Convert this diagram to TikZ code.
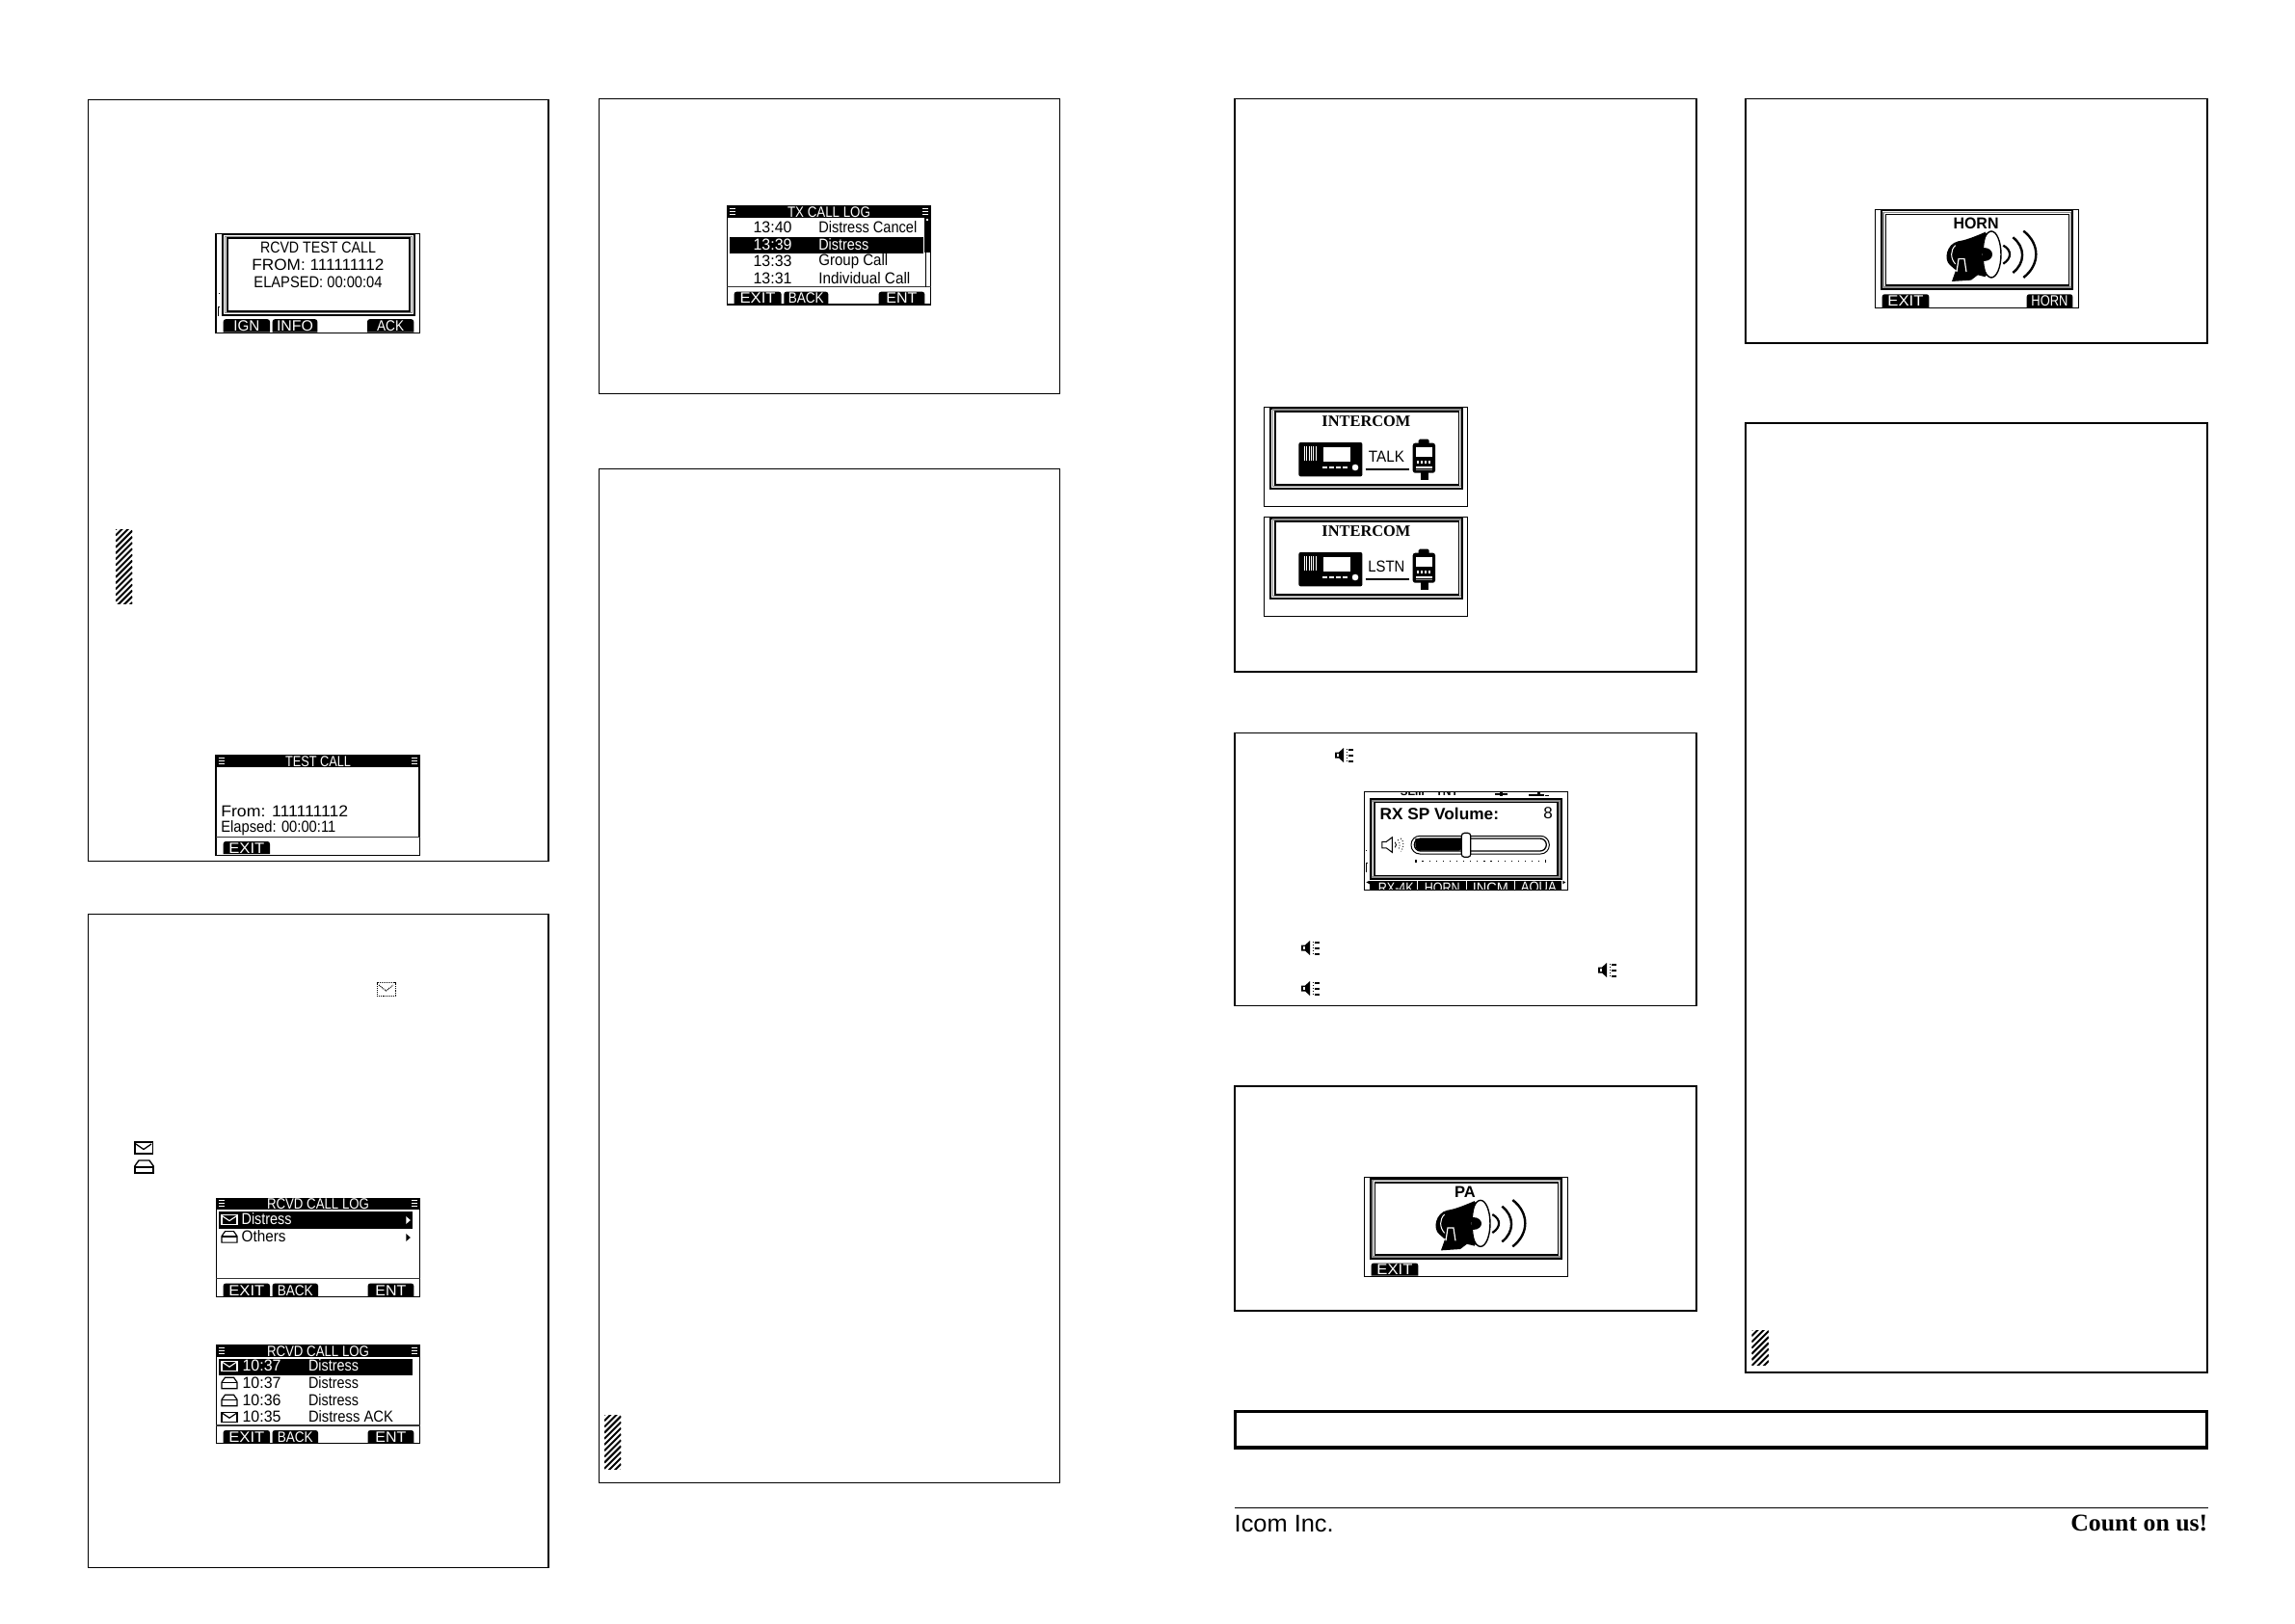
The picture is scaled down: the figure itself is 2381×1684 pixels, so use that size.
\documentclass[tikz,border=0pt]{standalone}
\usepackage{fontspec}
\usepackage{graphicx}
\setmainfont{Liberation Sans}
\newfontfamily\serifbold{Liberation Serif}
\newcommand\fw[2]{\resizebox{#1pt}{\height}{#2}}
\newcommand\lcd{\fontsize{16.5}{16.5}\selectfont}
\newcommand\lcdkey{\fontsize{15.5}{15.5}\selectfont}
\tikzset{
  panel/.style={draw=black,line width=1.2pt,fill=white},
  scr/.style={draw=black,line width=1.1pt},
  txt/.style={inner sep=0pt,outer sep=0pt,font=\lcd,text=black,anchor=center},
  txtl/.style={txt,anchor=west},
  inv/.style={txt,text=white},
  invl/.style={txtl,text=white},
  key/.style={inv,font=\lcdkey},
  ttl/.style={inv,font=\lcdkey},
  fat/.style={txt,font=\lcd\bfseries,text=black},
  ihead/.style={txt,font=\serifbold\bfseries\fontsize{16.5}{16.5}\selectfont},
}
% soft key tab: x1 x2 top label textwidth name
\newcommand\softkey[6]{%
  \fill[black,rounded corners=2.5pt] (#1,102) -- (#1,#3) -- (#2,#3) [sharp corners] -- (#2,102) -- cycle;
  \node[key] (#6) at ({(#1+#2)/2},{(#3+102)/2+0.3}) {\fw{#5}{#4}};}
% top band with menu marks
\newcommand\band{%
  \fill[black] (0,0) rectangle (211.5,12);
  \foreach \mx in {2.5,202.5}{\foreach \my in {2.6,5.6,8.6}{\draw[white,line width=1pt] (\mx,\my) -- ++(6.5,0);}}}
\newcommand\sides[1]{%
  \draw[black,line width=1pt] (0.6,12) -- (0.6,#1);
  \draw[black,line width=1pt] (210.9,12) -- (210.9,#1);
  \draw[black!80,line width=1.3pt] (0,#1) -- (211.5,#1);}
% double frame of a dialog: outer box, inner box
\newcommand\dlg[8]{%
  \draw[black,line width=2pt] (#1,#2) rectangle (#3,#4);
  \draw[black!45,line width=1.3pt] ({(#1+#5)/2},{(#2+#6)/2}) rectangle ({(#3+#7)/2},{(#4+#8)/2});
  \draw[black,line width=1.6pt] (#5,#6) rectangle (#7,#8);}
\newcommand\envicon[2]{%
  \draw[black,line width=1.2pt] (#1,#2) rectangle ++(16,10);
  \draw[black,line width=1.2pt] (#1+0.5,#2+1) -- (#1+8,#2+6) -- (#1+15.5,#2+1);}
\newcommand\openicon[2]{%
  \draw[black,line width=1.2pt] (#1,#2+12.5) -- (#1,#2+6) -- (#1+3.5,#2+1) -- (#1+12.5,#2+1) -- (#1+16,#2+6) -- (#1+16,#2+12.5) -- cycle;
  \draw[black,line width=1.2pt] (#1,#2+6.3) -- (#1+16,#2+6.3);}
\newcommand\spk[2]{% speaker mark 19x15
  \fill[black] (#1,#2+4.5) -- (#1+4,#2+4.5) -- (#1+9,#2) -- (#1+9,#2+15) -- (#1+4,#2+10.5) -- (#1,#2+10.5) -- cycle;
  \fill[white] (#1+2,#2+6.3) rectangle (#1+4,#2+8.7);
  \foreach \dy in {1,4,7,10,13}{\fill[black] (#1+11.5,#2+\dy) rectangle ++(1.5,1.4);}
  \foreach \dy in {1,7,13}{\fill[black] (#1+14,#2+\dy) rectangle ++(4.5,1.5);}}
\newcommand\hatchbox[4]{%
  \begin{scope}
    \clip (#1,#2) rectangle (#3,#4);
    \pgfmathsetmacro\hw{#3-#1}
    \pgfmathsetmacro\hend{#4+\hw+6}
    \pgfmathsetmacro\hnext{#2+6.2}
    \foreach \k in {#2,\hnext,...,\hend}{\draw[black,line width=2pt] (#1,\k) -- (#3,\k-\hw);}
  \end{scope}}
% megaphone, drawn in 3x units with origin of the crop
\newcommand\megaphone{%
  \begin{scope}[scale=1/3]
    \fill[black] (390,108) .. controls (350,125) and (330,133) .. (305,137) .. controls (268,145) and (258,195) .. (280,212) -- (295,225) -- (390,248) -- cycle;
    \fill[black] (285,262) -- (297,228) -- (345,232) -- (375,235) -- (345,258) -- cycle;
    \draw[white,line width=1pt] (296,150) .. controls (280,165) and (280,190) .. (296,208);
    \fill[black] (303,188) rectangle (328,236);
    \draw[white,line width=1.2pt] (300,232) -- (306,192) -- (324,192) -- (330,232);
    \draw[black,line width=1.4pt,fill=white] (408,178) ellipse [x radius=30,y radius=72];
    \draw[black,line width=1.2pt] (392,112) .. controls (378,150) and (378,205) .. (392,244);
    \fill[black] (385,158) .. controls (420,158) and (420,198) .. (385,198) -- cycle;
    \draw[black,line width=2.2pt] (445,150) .. controls (472,165) and (472,190) .. (445,207);
    \draw[black,line width=2.4pt] (475,125) .. controls (514,155) and (514,205) .. (475,235);
    \draw[black,line width=2.4pt] (508,105) .. controls (560,145) and (560,210) .. (508,250);
  \end{scope}}
% radio plus handset of the intercom screens
\newcommand\intercomart{%
  \fill[black,rounded corners=2pt] (35.7,36.3) rectangle (101.7,71.7);
  \foreach \gx in {41.5,43.9,...,55}{\draw[white,line width=0.9pt] (\gx,40.7) -- (\gx,55.7);}
  \fill[white] (61.7,41.3) rectangle (89,56);
  \foreach \gx in {60,67,74,81}{\fill[white] (\gx,61.3) rectangle ++(5,2);}
  \draw[black,line width=1pt,fill=white] (94.3,62.3) circle (4);
  \draw[black,line width=2.2pt] (105,64) -- (150,64);
  \fill[black,rounded corners=1.5pt] (160,33) rectangle (171,39);
  \fill[black,rounded corners=2.5pt] (154,37) rectangle (177.3,68);
  \fill[black] (162,67) rectangle (170,75);
  \fill[white] (157,41) rectangle (174.3,51);
  \foreach \gx in {158,162,166,170}{\fill[white] (\gx,55.7) rectangle ++(2.6,2.4);}
  \fill[white] (157,61) rectangle (174.3,62.8);
  \fill[black!45] (157,64) rectangle (174.3,65.6);}
\begin{document}
\begin{tikzpicture}[x=1pt,y=-1pt,line join=miter]
\useasboundingbox (0,0) rectangle (2381,1684);
\fill[white] (0,0) rectangle (2381,1684);

% panels, column one
\draw[panel] (91.5,103.6) rectangle (569,893.3);
\draw[panel] (91.5,948.5) rectangle (569,1626.5);
% column two
\draw[panel] (621.3,102.5) rectangle (1099.5,408.5);
\draw[panel] (621.3,486.5) rectangle (1099.5,1538.5);
% column three
\draw[panel] (1281,102.5) rectangle (1760,697);
\draw[panel] (1281,760.5) rectangle (1760,1043.5);
\draw[panel] (1281,1127) rectangle (1760,1360);
% column four
\draw[panel] (1811,102.5) rectangle (2290,356);
\draw[panel] (1811,439) rectangle (2290,1424);
% long bar and foot
\draw[draw=black,line width=3.2pt] (1281.8,1464.5) rectangle (2289.6,1502);
\draw[black,line width=1.2pt] (1281,1564.5) -- (2290.5,1564.5);
\node[inner sep=0pt,anchor=base west,font=\fontsize{25}{25}\selectfont,text=black] (icom) at (1280.5,1589.5) {\fw{103}{Icom Inc.}};
\node[inner sep=0pt,anchor=base east,font=\serifbold\bfseries\fontsize{25}{25}\selectfont,text=black] (count) at (2290.5,1588.5) {\fw{142}{Count on us!}};

% hatched marks
\hatchbox{120}{549.3}{137.3}{626.8}
\hatchbox{627}{1468}{644.3}{1524}
\hatchbox{1817.3}{1380}{1835}{1416}

% loose icons
\draw[black,line width=1pt,dash pattern=on 1pt off 0.9pt] (391,1019.5) rectangle (410,1033);
\draw[black,line width=1pt,dash pattern=on 1pt off 0.9pt] (393,1022) -- (400.5,1028) -- (408,1022);
\fill[black] (139,1184) rectangle (159,1198);
\fill[white] (140.5,1186) rectangle (157.5,1196);
\draw[black,line width=1.3pt] (141,1187) -- (149,1192.5) -- (157,1187);
\fill[black] (139,1209.5) rectangle (160,1218);
\fill[white] (141,1211.5) rectangle (158,1216);
\draw[black,line width=1.4pt] (139.7,1210) -- (144,1204) -- (155,1204) -- (159.3,1210);
\spk{1385}{776}
\spk{1350}{976}
\spk{1658}{999}
\spk{1350}{1018}

% RCVD TEST CALL
\begin{scope}[shift={(224,242.5)}]
  \draw[scr,fill=white] (0,0) rectangle (211.5,103);
  \dlg{6.7}{0.7}{206}{84}{11.7}{4.6}{201}{80.4}
  \node[txt] (a1) at (106,14.6) {\fw{120}{RCVD TEST CALL}};
  \node[txt] (a2) at (106,32.5) {\fw{137}{FROM: 111111112}};
  \node[txt] (a3) at (106,50.4) {\fw{133}{ELAPSED: 00:00:04}};
  \fill[black] (2.6,61.5) rectangle (3.8,62.7);
  \draw[black,line width=0.9pt] (2.8,85) -- (2.8,76) -- (4.4,76);
  \softkey{7.7}{56}{88.7}{IGN}{27}{a4}
  \softkey{58.7}{105.3}{88.7}{INFO}{38}{a5}
  \softkey{157}{205.3}{88.7}{ACK}{28}{a6}
\end{scope}

% TEST CALL
\begin{scope}[shift={(224,784)}]
  \band
  \draw[scr] (0,0) rectangle (211.5,103.3);
  \sides{84.7}
  \node[ttl] (b1) at (106,6) {\fw{68}{TEST CALL}};
  \node[txtl] (b2) at (5.3,57.7) {\fw{132}{From: 111111112}};
  \node[txtl] (b3) at (5.3,75.3) {\fw{119}{Elapsed: 00:00:11}};
  \softkey{7.7}{56}{89}{EXIT}{37}{b4}
\end{scope}

% RCVD CALL LOG, first
\begin{scope}[shift={(224.3,1243.3)}]
  \band
  \draw[scr] (0,0) rectangle (211,102);
  \sides{83.3}
  \node[ttl] (c1) at (105.7,6) {\fw{106}{RCVD CALL LOG}};
  \fill[black] (2.7,14) rectangle (203.3,31.3);
  \draw[white,line width=1.1pt] (5.7,17.3) rectangle ++(16,10);
  \draw[white,line width=1.1pt] (6.2,18.3) -- (13.7,23.3) -- (21.2,18.3);
  \openicon{5.7}{33.3}
  \node[invl] (c2) at (26.3,21.7) {\fw{52}{Distress}};
  \node[txtl] (c3) at (26.3,39.3) {\fw{46}{Others}};
  \fill[white] (197,18.7) -- (201.5,22.7) -- (197,26.7) -- cycle;
  \fill[black] (197,36.7) -- (201.5,40.7) -- (197,44.7) -- cycle;
  \softkey{7.3}{55.7}{88.3}{EXIT}{37}{c4}
  \softkey{58.3}{105.7}{88.3}{BACK}{37}{c5}
  \softkey{157.3}{205}{88.3}{ENT}{32}{c6}
\end{scope}

% RCVD CALL LOG, second
\begin{scope}[shift={(224.3,1395.7)}]
  \band
  \draw[scr] (0,0) rectangle (211,101.6);
  \sides{83.3}
  \node[ttl] (d1) at (105.7,6) {\fw{106}{RCVD CALL LOG}};
  \fill[black] (2.7,14.3) rectangle (203.3,31);
  \draw[white,line width=1.1pt] (5.7,16.5) rectangle ++(16,10);
  \draw[white,line width=1.1pt] (6.2,17.5) -- (13.7,22.5) -- (21.2,17.5);
  \openicon{5.7}{32.5}
  \openicon{5.7}{50.5}
  \envicon{5.7}{69.5}
  \node[invl] (d2) at (27.3,21) {\fw{40}{10:37}};
  \node[invl] (d3) at (95.7,21) {\fw{52}{Distress}};
  \node[txtl] (d4) at (27.3,38.7) {\fw{40}{10:37}};
  \node[txtl] (d5) at (95.7,38.7) {\fw{52}{Distress}};
  \node[txtl] (d6) at (27.3,56.7) {\fw{40}{10:36}};
  \node[txtl] (d7) at (95.7,56.7) {\fw{52}{Distress}};
  \node[txtl] (d8) at (27.3,74.3) {\fw{40}{10:35}};
  \node[txtl] (d9) at (95.7,74.3) {\fw{88}{Distress ACK}};
  \softkey{7.3}{55.7}{88.3}{EXIT}{37}{d10}
  \softkey{58.3}{105.7}{88.3}{BACK}{37}{d11}
  \softkey{157.3}{205}{88.3}{ENT}{32}{d12}
\end{scope}

% TX CALL LOG
\begin{scope}[shift={(754.3,214)}]
  \band
  \draw[scr] (0,0) rectangle (211.4,102);
  \sides{83.7}
  \fill[black] (205,12) rectangle (211,48);
  \fill[white] (207,13) rectangle (208.6,14.8);
  \draw[black,line width=1.2pt] (206.3,48) -- (206.3,83.7);
  \node[ttl] (e1) at (105.7,6) {\fw{86}{TX CALL LOG}};
  \fill[black] (2.3,31.7) rectangle (203.3,49.3);
  \node[txtl] (e2) at (27.3,21.7) {\fw{40}{13:40}};
  \node[txtl] (e3) at (95,21.7) {\fw{102}{Distress Cancel}};
  \node[invl] (e4) at (27.3,39.7) {\fw{40}{13:39}};
  \node[invl] (e5) at (95,39.7) {\fw{52}{Distress}};
  \node[txtl] (e6) at (27.3,57.3) {\fw{40}{13:33}};
  \node[txtl] (e7) at (95,57.3) {\fw{72}{Group Call}};
  \node[txtl] (e8) at (27.3,75) {\fw{40}{13:31}};
  \node[txtl] (e9) at (95,75) {\fw{95}{Individual Call}};
  \softkey{7.3}{56.3}{88.7}{EXIT}{37}{e10}
  \softkey{59}{105}{88.7}{BACK}{37}{e11}
  \softkey{157.3}{205}{88.7}{ENT}{32}{e12}
\end{scope}

% INTERCOM TALK
\begin{scope}[shift={(1311.7,422.7)}]
  \draw[scr] (0,0) rectangle (210.6,102.6);
  \dlg{6.7}{0.8}{205.6}{84}{11}{4}{201.7}{80}
  \node[ihead] (f1) at (105.7,14.7) {\fw{92}{INTERCOM}};
  \intercomart
  \node[txt] (f2) at (126.7,50.7) {\fw{37}{TALK}};
\end{scope}

% INTERCOM LSTN
\begin{scope}[shift={(1311.7,536.7)}]
  \draw[scr] (0,0) rectangle (210.6,102.6);
  \dlg{6.7}{0.8}{205.6}{84}{11}{4}{201.7}{80}
  \node[ihead] (g1) at (105.7,14.7) {\fw{92}{INTERCOM}};
  \intercomart
  \node[txt] (g2) at (126.7,50.7) {\fw{38}{LSTN}};
\end{scope}

% RX SP Volume
\begin{scope}[shift={(1415.3,821.3)}]
  \begin{scope}
    \clip (0,0) rectangle (211,102);
    \node[txt,font=\fontsize{12}{12}\selectfont\bfseries] (h1) at (86,0.5) {TNT};
    \node[txt,font=\fontsize{12}{12}\selectfont\bfseries] (h2) at (50,0.5) {\fw{25}{SEIII}};
    \fill[black] (136,2) rectangle (149,4);
    \fill[black] (141,0) rectangle (144,5);
    \fill[black] (171,3) rectangle (187,5);
    \fill[black] (180,0) rectangle (183,5);
    \fill[black] (188,4) rectangle (192,5);
    \fill[black] (6,93) rectangle (205,102);
    \foreach \sx in {55,106,156}{\draw[white,line width=1pt] (\sx,93) -- (\sx,102);}
    \node[inv,font=\fontsize{15}{15}\selectfont] (h3) at (33,100) {\fw{37}{RX-4K}};
    \node[inv,font=\fontsize{15}{15}\selectfont] (h4) at (81,100) {\fw{37}{HORN}};
    \node[inv,font=\fontsize{15}{15}\selectfont] (h5) at (131,100) {\fw{37}{INCM}};
    \node[inv,font=\fontsize{15}{15}\selectfont] (h6) at (181,100) {\fw{37}{AQUA}};
  \end{scope}
  \draw[scr] (0,0) rectangle (211,102);
  \dlg{6.3}{8}{204.7}{90.3}{10.7}{11.3}{200.7}{87}
  \node[txtl,font=\fontsize{17}{17}\selectfont\bfseries] (h7) at (16.3,22.7) {\fw{123.4}{RX SP Volume:}};
  \node[txt,font=\fontsize{17}{17}\selectfont] (h8) at (190.7,22.7) {8};
  % little speaker
  \draw[black,line width=1pt,fill=white] (18.5,52) -- (23,52) -- (29,47.5) -- (29,63) -- (23,58.5) -- (18.5,58.5) -- cycle;
  \draw[black,line width=0.9pt] (32,52.5) .. controls (33.5,54) and (33.5,56.5) .. (32,58);
  \draw[black,line width=0.9pt,dotted] (35,50) .. controls (37.5,53) and (37.5,57.5) .. (35,60.5);
  \draw[black,line width=0.9pt,dotted] (38,48.5) .. controls (41.5,52) and (41.5,58.5) .. (38,62);
  % slider
  \draw[black,line width=1pt,fill=white,rounded corners=9pt] (48.7,46) rectangle (192,64.7);
  \draw[black,line width=1.3pt,rounded corners=6.5pt] (52,48.7) rectangle (189,61.7);
  \fill[black,rounded corners=5pt] (53,48.7) -- (53,61.3) -- (103,61.3) [sharp corners] -- (103,48.7) -- cycle;
  \draw[black,line width=1.2pt,fill=white,rounded corners=3pt] (101,43) rectangle (110.5,68);
  \foreach \dn in {0,...,19}{\fill[black] ({53+\dn*7.1},71.6) rectangle ++(1.2,1.2);}
  \fill[black] (52.8,70.3) rectangle (54.2,73.5);
  \fill[black] (187.4,70.3) rectangle (188.8,73.5);
  \fill[black] (2,60.8) rectangle (3,61.8);
  \draw[black,line width=0.9pt] (2,84) -- (2,74) -- (3.6,74);
  \fill[black] (2,94) -- (5.5,92.5) -- (5.5,96) -- cycle;
  \fill[black] (209,94) -- (206,92.5) -- (206,96) -- cycle;
\end{scope}

% PA
\begin{scope}[shift={(1415.3,1221.7)}]
  \draw[scr] (0,0) rectangle (211.4,102.6);
  \dlg{6.3}{1}{204.7}{84.3}{11.3}{5}{201}{80}
  \node[fat] (i1) at (104.7,15) {PA};
  \begin{scope}[shift={(-15.33,-11.67)}]
    \megaphone
  \end{scope}
  \softkey{7.3}{56}{88.8}{EXIT}{37}{i2}
\end{scope}

% HORN
\begin{scope}[shift={(1945.3,217.3)}]
  \draw[scr] (0,0) rectangle (211.4,102);
  \dlg{6.3}{1}{204.7}{82.7}{11.3}{5.3}{201}{78.7}
  \node[fat] (j1) at (104.7,15) {\fw{47}{HORN}};
  \begin{scope}[shift={(-15.33,-12.67)}]
    \megaphone
  \end{scope}
  \softkey{7.3}{56}{88}{EXIT}{37}{j2}
  \softkey{157.3}{205}{88}{HORN}{38}{j3}
\end{scope}
\end{tikzpicture}
\end{document}
